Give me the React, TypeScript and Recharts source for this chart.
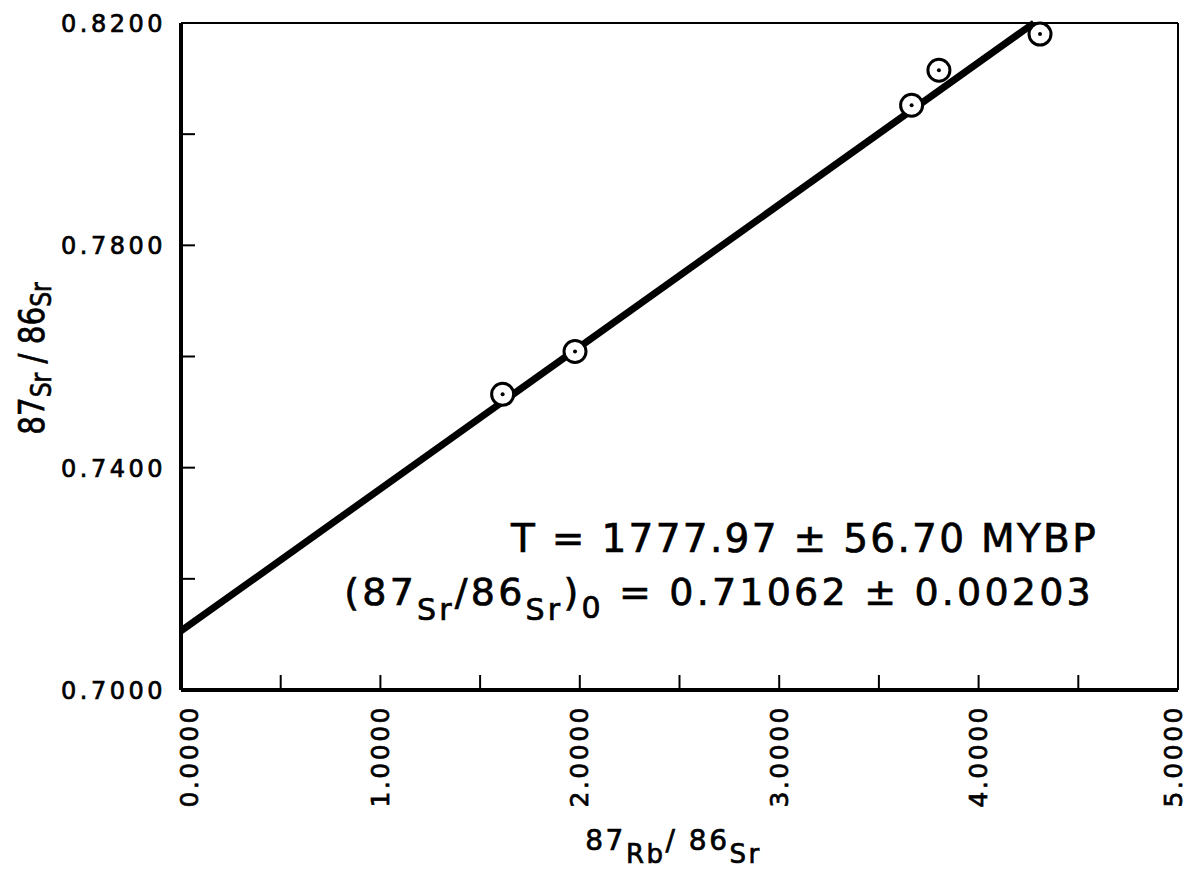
import { ScatterChart, Scatter, XAxis, YAxis, ReferenceLine } from 'recharts';

// 87Rb/86Sr vs 87Sr/86Sr whole-rock isochron
const RB_SR = [1.613, 1.976, 3.664, 3.801, 4.308];
const SR_SR = [0.7532, 0.7609, 0.8052, 0.8115, 0.818];

const X_TICKS = [0, 0.5, 1, 1.5, 2, 2.5, 3, 3.5, 4, 4.5, 5];
const Y_TICKS = [0.7, 0.72, 0.74, 0.76, 0.78, 0.8, 0.82];
const X_LABELED = [0, 1, 2, 3, 4, 5];
const Y_LABELED = [0.7, 0.74, 0.78, 0.82];

// fit results
const AGE_MY = 1777.97;
const AGE_ERR = 56.7;
const INITIAL = 0.71062;
const INITIAL_ERR = 0.00203;
const LAMBDA = 1.42e-11;

const SLOPE = Math.exp(LAMBDA * AGE_MY * 1e6) - 1;
const Y_MAX = 0.82;
const X_AT_TOP = (Y_MAX - INITIAL) / SLOPE;

const points = RB_SR.map((x, i) => ({ x, y: SR_SR[i] }));

const FONT = '"DejaVu Sans", sans-serif';
// lettering is a bit heavier than DejaVu Book
const INK = { fill: '#000', stroke: '#000', strokeWidth: 0.7 };

const XTick = (props: any) => {
  const { x, y, payload } = props;
  const v = payload.value;
  const ay = y + 15;
  // end labels sit just inside the frame
  const lx = v === 0 ? x + 8 : v === 5 ? x - 5 : x;
  return (
    <g>
      <line x1={x} y1={y} x2={x} y2={y - 15} stroke="#000" strokeWidth={2} />
      {X_LABELED.includes(v) && (
        <text
          x={lx}
          y={ay}
          transform={`rotate(-90, ${lx}, ${ay})`}
          textAnchor="end"
          dominantBaseline="central"
          fontFamily={FONT}
          fontSize={25}
          letterSpacing={2.5}
          {...INK}
        >
          {v.toFixed(4)}
        </text>
      )}
    </g>
  );
};

const YTick = (props: any) => {
  const { x, y, payload } = props;
  const v = payload.value;
  const labeled = Y_LABELED.some((t) => Math.abs(t - v) < 1e-9);
  return (
    <g>
      <line x1={x} y1={y} x2={x + 14} y2={y} stroke="#000" strokeWidth={2} />
      {labeled && (
        <text
          x={x - 15}
          y={y + 1}
          textAnchor="end"
          dominantBaseline="central"
          fontFamily={FONT}
          fontSize={24}
          letterSpacing={3.5}
          {...INK}
        >
          {v.toFixed(4)}
        </text>
      )}
    </g>
  );
};

const Ringed = (props: any) => {
  const { cx, cy } = props;
  return (
    <g>
      <circle cx={cx} cy={cy} r={11} fill="#fff" stroke="#000" strokeWidth={3} />
      <circle cx={cx} cy={cy} r={2} fill="#000" />
    </g>
  );
};

const XTitle = (props: any) => {
  const { viewBox } = props;
  const cx = viewBox.x + viewBox.width / 2 - 6;
  return (
    <text x={cx} y={850} textAnchor="middle" fontFamily={FONT} fontSize={28} letterSpacing={2.5} {...INK}>
      <tspan>87</tspan>
      <tspan fontSize={26} dy={13}>Rb</tspan>
      <tspan dy={-13}>/ 86</tspan>
      <tspan fontSize={26} dy={13}>Sr</tspan>
    </text>
  );
};

// narrow, tall lettering along the y axis
const YTitle = (props: any) => {
  const { viewBox } = props;
  const cy = viewBox.y + viewBox.height / 2 + 2;
  return (
    <text
      x={0}
      y={0}
      transform={`translate(44, ${cy}) rotate(-90) scale(0.84, 1)`}
      textAnchor="middle"
      fontFamily={FONT}
      fontSize={35}
      {...INK}
    >
      <tspan>87</tspan>
      <tspan fontSize={28} dy={7}>Sr</tspan>
      <tspan dy={-7}> / 86</tspan>
      <tspan fontSize={28} dy={7}>Sr</tspan>
    </text>
  );
};

export default function App() {
  return (
    <div style={{ position: 'absolute', left: 0, top: 0, width: 1190, height: 872, background: '#fff' }}>
      <ScatterChart width={1190} height={872} margin={{ top: 23, right: 12, left: 81, bottom: 62 }}>
        <XAxis
          type="number"
          dataKey="x"
          domain={[0, 5]}
          ticks={X_TICKS}
          interval={0}
          height={120}
          tickSize={0}
          tickMargin={0}
          tickLine={false}
          tick={<XTick />}
          axisLine={{ stroke: '#000', strokeWidth: 4 }}
          label={{ content: <XTitle /> }}
        />
        <YAxis
          type="number"
          dataKey="y"
          domain={[0.7, 0.82]}
          ticks={Y_TICKS}
          interval={0}
          width={100}
          tickSize={0}
          tickMargin={0}
          tickLine={false}
          tick={<YTick />}
          axisLine={{ stroke: '#000', strokeWidth: 4 }}
          label={{ content: <YTitle /> }}
        />
        <ReferenceLine y={0.82} stroke="#000" strokeWidth={2} />
        <ReferenceLine x={5} stroke="#000" strokeWidth={2} />
        <ReferenceLine
          segment={[
            { x: 0, y: INITIAL },
            { x: X_AT_TOP, y: Y_MAX },
          ]}
          stroke="#000"
          strokeWidth={7}
        />
        <Scatter data={points} shape={<Ringed />} isAnimationActive={false} />
      </ScatterChart>
      <svg
        width={1190}
        height={872}
        style={{ position: 'absolute', left: 0, top: 0, pointerEvents: 'none' }}
        fontFamily={FONT}
      >
        <text x={1098} y={552} textAnchor="end" fontSize={39} letterSpacing={2.3} {...INK}>
          {`T = ${AGE_MY.toFixed(2)} ± ${AGE_ERR.toFixed(2)} MYBP`}
        </text>
        <text x={1094} y={605} textAnchor="end" fontSize={38} letterSpacing={3.2} {...INK}>
          <tspan>(87</tspan>
          <tspan fontSize={30} dy={15}>Sr</tspan>
          <tspan dy={-15}>/86</tspan>
          <tspan fontSize={30} dy={15}>Sr</tspan>
          <tspan dy={-15}>)</tspan>
          <tspan fontSize={30} dy={13}>0</tspan>
          <tspan dy={-13}>{` = ${INITIAL.toFixed(5)} ± ${INITIAL_ERR.toFixed(5)}`}</tspan>
        </text>
      </svg>
    </div>
  );
}
